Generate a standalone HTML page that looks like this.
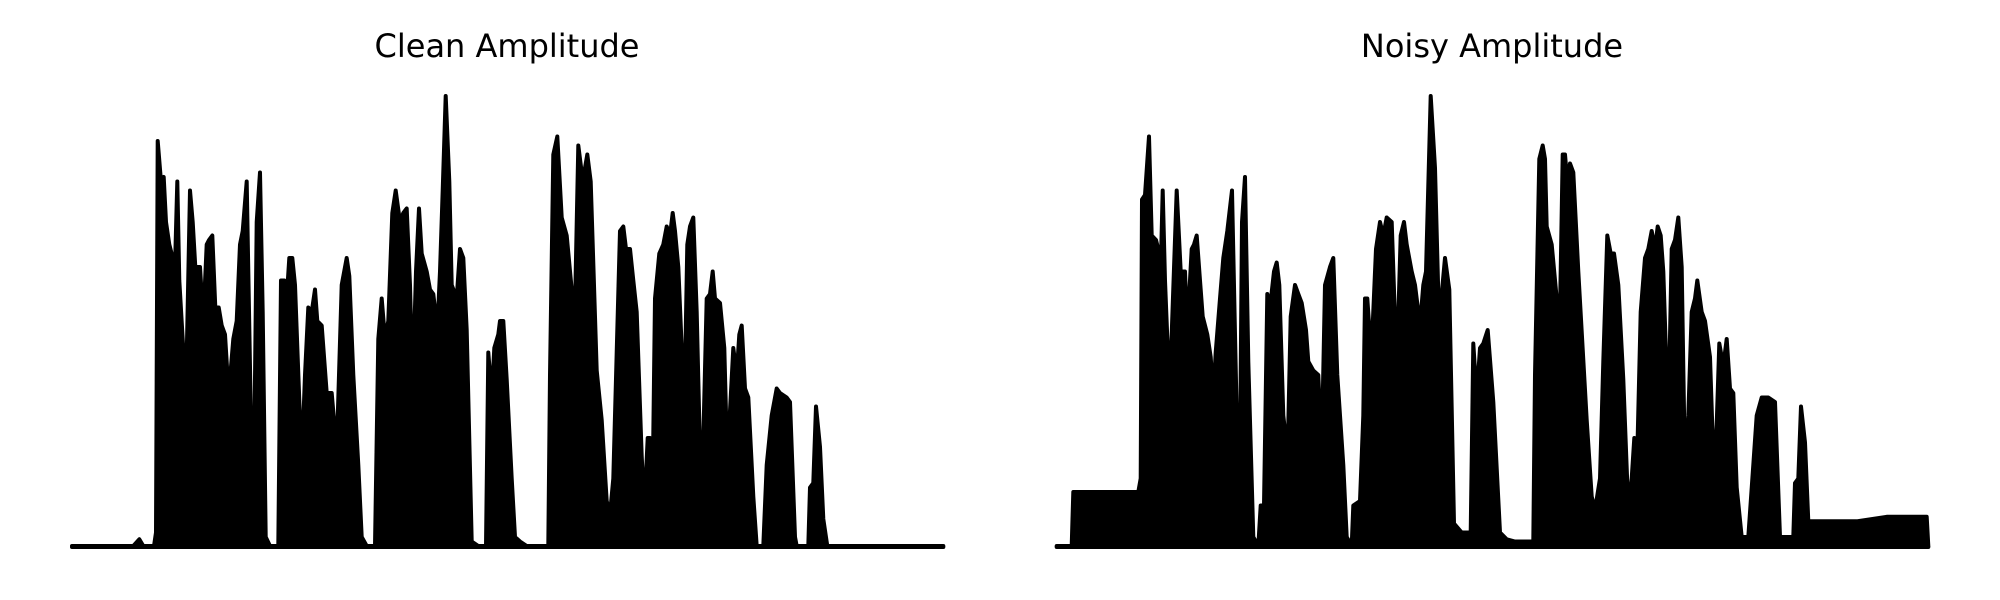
<!DOCTYPE html>
<html><head><meta charset="utf-8"><style>
html,body{margin:0;padding:0;background:#fff;}
svg{display:block;}
text{font-family:"DejaVu Sans","Liberation Sans",sans-serif;}
</style></head><body>
<svg id="chart" width="2000" height="600" viewBox="0 0 2000 600" xmlns="http://www.w3.org/2000/svg">
<text x="507" y="57" font-size="32" text-anchor="middle" fill="#000">Clean Amplitude</text>
<text x="1492" y="57" font-size="32" text-anchor="middle" fill="#000">Noisy Amplitude</text>
<g id="clean-panel"></g>
<g id="noisy-panel"></g>
</svg>
<script>
const cleanTimes=[0,61.3,67.3,71.3,82,84,85.7,89,91.7,94,97.3,103,105.3,107.3,113.3,114.7,118,120.7,123.3,128,131.3,134.7,137,140.3,143.3,146.7,149.7,153,156.3,158.7,161.3,164.7,168,170.7,174.7,178.7,182.3,184.7,188,190.7,193.7,198,206.3,209,212.3,214.7,217.3,220.3,223,229.7,233,236.3,239.7,243,245.3,249.7,254.7,259.7,264.7,269.7,274.7,277.3,281.3,286.3,289.7,294.7,303,306.3,309.7,313,316.3,320.3,323.7,328,331.3,334.7,338,340.7,344,347,349.7,354.7,358,361.3,365.3,368,370.7,373.7,377.3,379.7,384.7,388,391.3,394.7,399.7,406.3,414,416.3,419.7,422.3,426.3,428,431.3,434.7,439.7,443,448,454.7,476.3,478,481.3,485.3,489.7,494.7,499.7,503,506.3,509.7,513,515.3,518.7,524.7,529.7,534.7,538,541.3,544.7,548,551.3,554,558,561.3,564.7,569.7,572.3,575.7,578,580.7,583,587.3,591.3,594.7,598,600.7,603,606.3,609.7,612,615.3,618,621.3,624.7,628,630.7,634.7,638,640.7,643,648,652.3,655.7,658,661.3,664.7,667.3,669.7,673,676.3,681.3,684.7,691.3,694.7,699.7,704.7,708,714.7,718,723,724.7,736.3,738,741.3,744,748,751.3,755.3,828,851.3,871.3];
const cleanAmps=[0,0,.015,0,0,.03,.90,.81,.82,.72,.67,.62,.81,.59,.36,.42,.79,.72,.62,.62,.50,.67,.68,.69,.53,.53,.49,.47,.35,.39,.46,.50,.67,.70,.81,.31,.23,.72,.83,.52,.02,0,0,.59,.59,.55,.64,.64,.58,.18,.38,.53,.52,.57,.50,.49,.34,.34,.21,.58,.64,.60,.38,.18,.02,0,0,.46,.55,.46,.50,.74,.79,.72,.74,.75,.58,.35,.61,.75,.65,.61,.57,.56,.48,.61,.79,1.00,.81,.58,.55,.66,.64,.48,.01,0,0,.43,.33,.44,.47,.50,.50,.37,.15,.02,.01,0,0,.38,.87,.91,.73,.69,.57,.53,.89,.83,.84,.87,.81,.39,.28,.10,.07,.15,.43,.70,.71,.66,.66,.59,.52,.20,.08,.24,.24,.14,.55,.65,.67,.71,.69,.74,.70,.62,.44,.26,.67,.71,.73,.52,.21,.18,.55,.56,.61,.55,.54,.44,.15,.30,.44,.38,.47,.49,.35,.33,.11,0,0,.18,.29,.35,.34,.33,.32,.02,0,0,.13,.14,.31,.22,.06,0,0,0,0];
const noisyTimes=[1.7,16.7,18.3,83.3,85.7,87,90,94,96.7,101,104.3,105.7,107.7,110,114.3,116.7,121.7,125.7,130,132.3,136.7,139,141.7,145,147.7,152.3,155.7,158.3,160.7,165,168.3,172.3,177,181.7,185,187,190,193.3,198.3,203.3,205.7,209,212.3,215,219,221.7,224.3,228.3,230.7,233.3,235.7,240,243.3,246.7,251,253.3,258.3,263.3,266.7,270,275,278.3,282.3,288.3,291.7,296.7,298.3,305,308.3,310,312.3,315.7,317.7,321,325,328.3,331.7,336.7,341.7,345.7,349,351.7,356.7,360,365,368.3,371,375.7,380,383.3,386.7,390,394.3,399,406.7,415.7,418.3,421.7,425,428.3,432.7,438.3,445,451.7,460,478.3,480,484.3,487.7,490,491.7,496.7,501.7,505,507.7,510,512.3,515,518.3,523.3,531.7,536.7,540,545,548.3,552.3,555.7,559,563.3,568.3,573.3,576.7,579.3,581.7,585.7,590,593.3,596.7,600,602.7,605.7,608.3,613.3,616.7,620,623.3,626.7,630,633.3,636.7,640,642.3,646.7,650,655,659,661.7,664.3,668.3,671.7,675,678.3,681.7,686.7,693.3,698.3,701.7,706.7,713.3,720,725,733.3,738.3,740,743.3,746,750,753.3,765,801.7,831.7,871.7,873.3];
const noisyAmps=[0,0,.12,.12,.15,.77,.78,.91,.69,.68,.65,.61,.79,.59,.35,.47,.79,.61,.61,.48,.66,.67,.69,.59,.51,.47,.42,.33,.43,.55,.64,.70,.79,.29,.20,.72,.82,.41,.02,0,.09,.09,.56,.53,.61,.63,.58,.29,.24,.27,.51,.58,.56,.54,.48,.41,.39,.38,.21,.58,.62,.64,.38,.18,.02,0,.09,.10,.29,.55,.55,.44,.49,.66,.72,.69,.73,.72,.39,.69,.72,.67,.61,.58,.49,.58,.61,1.00,.84,.56,.56,.64,.57,.05,.03,.03,.45,.33,.44,.45,.48,.32,.03,.015,.01,.01,.38,.86,.89,.86,.71,.67,.55,.52,.87,.87,.81,.85,.83,.61,.28,.11,.08,.15,.41,.69,.65,.65,.58,.37,.08,.15,.24,.15,.52,.64,.66,.70,.66,.71,.69,.61,.27,.66,.68,.73,.62,.16,.29,.52,.55,.59,.52,.50,.42,.15,.27,.45,.40,.46,.35,.34,.13,.02,.02,.18,.29,.33,.33,.32,.02,.02,.02,.14,.15,.31,.23,.055,.055,.055,.065,.065,0];
const baseY=546, topY=96;
function yScale(a){return baseY-(baseY-topY)*a;}
function makeX(left){return function(t){return left+t;};}
const NS="http://www.w3.org/2000/svg";
function drawSeries(gId,times,amps,left,nm){
  const g=document.getElementById(gId);
  const xs=makeX(left);
  let pts=[];
  for(let i=0;i<times.length;i++){pts.push(xs(times[i]).toFixed(1)+","+yScale(amps[i]).toFixed(1));}
  const area=document.createElementNS(NS,"polygon");
  area.setAttribute("points",xs(times[0]).toFixed(1)+","+(baseY+3)+" "+pts.join(" ")+" "+xs(times[times.length-1]).toFixed(1)+","+(baseY+3));
  area.setAttribute("fill","#000");
  
  
  g.appendChild(area);
  const line=document.createElementNS(NS,"polyline");
  line.setAttribute("points",pts.join(" "));
  line.setAttribute("fill","none");
  line.setAttribute("stroke","#000");
  line.setAttribute("stroke-width","4");
  line.setAttribute("stroke-linejoin","round");
  line.setAttribute("stroke-linecap","round");
  
  
  g.appendChild(line);
  const base=document.createElementNS(NS,"line");
  base.setAttribute("x1",xs(times[0]));base.setAttribute("x2",xs(times[times.length-1]));
  base.setAttribute("y1",baseY+1);base.setAttribute("y2",baseY+1);
  base.setAttribute("stroke","#000");base.setAttribute("stroke-width","4");base.setAttribute("stroke-linecap","round");
  
  
  g.appendChild(base);
}
drawSeries("clean-panel",cleanTimes,cleanAmps,72,"clean-amplitude");
drawSeries("noisy-panel",noisyTimes,noisyAmps,1055,"noisy-amplitude");
</script>
</body></html>
